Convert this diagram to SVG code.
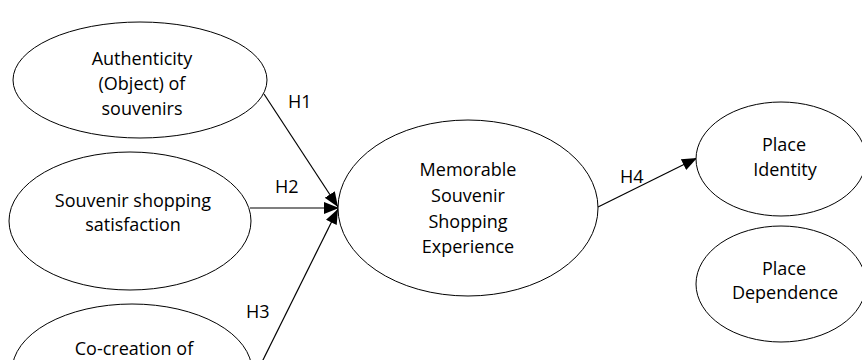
<svg xmlns="http://www.w3.org/2000/svg" width="862" height="360" viewBox="0 0 862 360">
<style>
.node ellipse{fill:#fff;stroke:#000;stroke-width:1}
text{font-family:"Open Sans","Liberation Sans",sans-serif;font-size:18px;fill:#000;text-anchor:middle}
.edge{stroke:#000;stroke-width:1.2;fill:none;marker-end:url(#arr)}
.lbl{text-anchor:start}
</style>
<defs>
<marker id="arr" markerUnits="userSpaceOnUse" markerWidth="16" markerHeight="13" refX="15" refY="6" orient="auto">
<path d="M0,0 L15,6 L0,12 z" fill="#000"/>
</marker>
</defs>
<rect width="862" height="360" fill="#fff"/>
<g id="connectors">
<line class="edge" x1="264" y1="94" x2="338" y2="207"/>
<line class="edge" x1="250" y1="208" x2="339" y2="208"/>
<line class="edge" x1="257" y1="372" x2="338" y2="209"/>
<line class="edge" x1="598" y1="207" x2="697" y2="158"/>
<text class="lbl" x="288" y="108">H1</text>
<text class="lbl" x="275" y="193">H2</text>
<text class="lbl" x="246" y="318">H3</text>
<text class="lbl" x="620" y="183">H4</text>
</g>
<g id="authenticity" class="node">
<ellipse cx="140" cy="80" rx="127" ry="58"/>
<text x="142" y="65">Authenticity</text>
<text x="142" y="90">(Object) of</text>
<text x="142" y="115">souvenirs</text>
</g>
<g id="satisfaction" class="node">
<ellipse cx="130" cy="221" rx="121" ry="69"/>
<text x="133" y="207">Souvenir shopping</text>
<text x="133" y="231">satisfaction</text>
</g>
<g id="cocreation" class="node">
<ellipse cx="132" cy="371" rx="120" ry="67"/>
<text x="134" y="355">Co-creation of</text>
</g>
<g id="memorable" class="node">
<ellipse cx="468" cy="208" rx="130" ry="88"/>
<text x="468" y="176">Memorable</text>
<text x="468" y="202">Souvenir</text>
<text x="468" y="228">Shopping</text>
<text x="468" y="253">Experience</text>
</g>
<g id="place-identity" class="node">
<ellipse cx="781" cy="159" rx="85" ry="57"/>
<text x="784" y="151">Place</text>
<text x="785" y="176">Identity</text>
</g>
<g id="place-dependence" class="node">
<ellipse cx="781" cy="284" rx="85" ry="58"/>
<text x="784" y="275">Place</text>
<text x="785" y="299">Dependence</text>
</g>
</svg>
